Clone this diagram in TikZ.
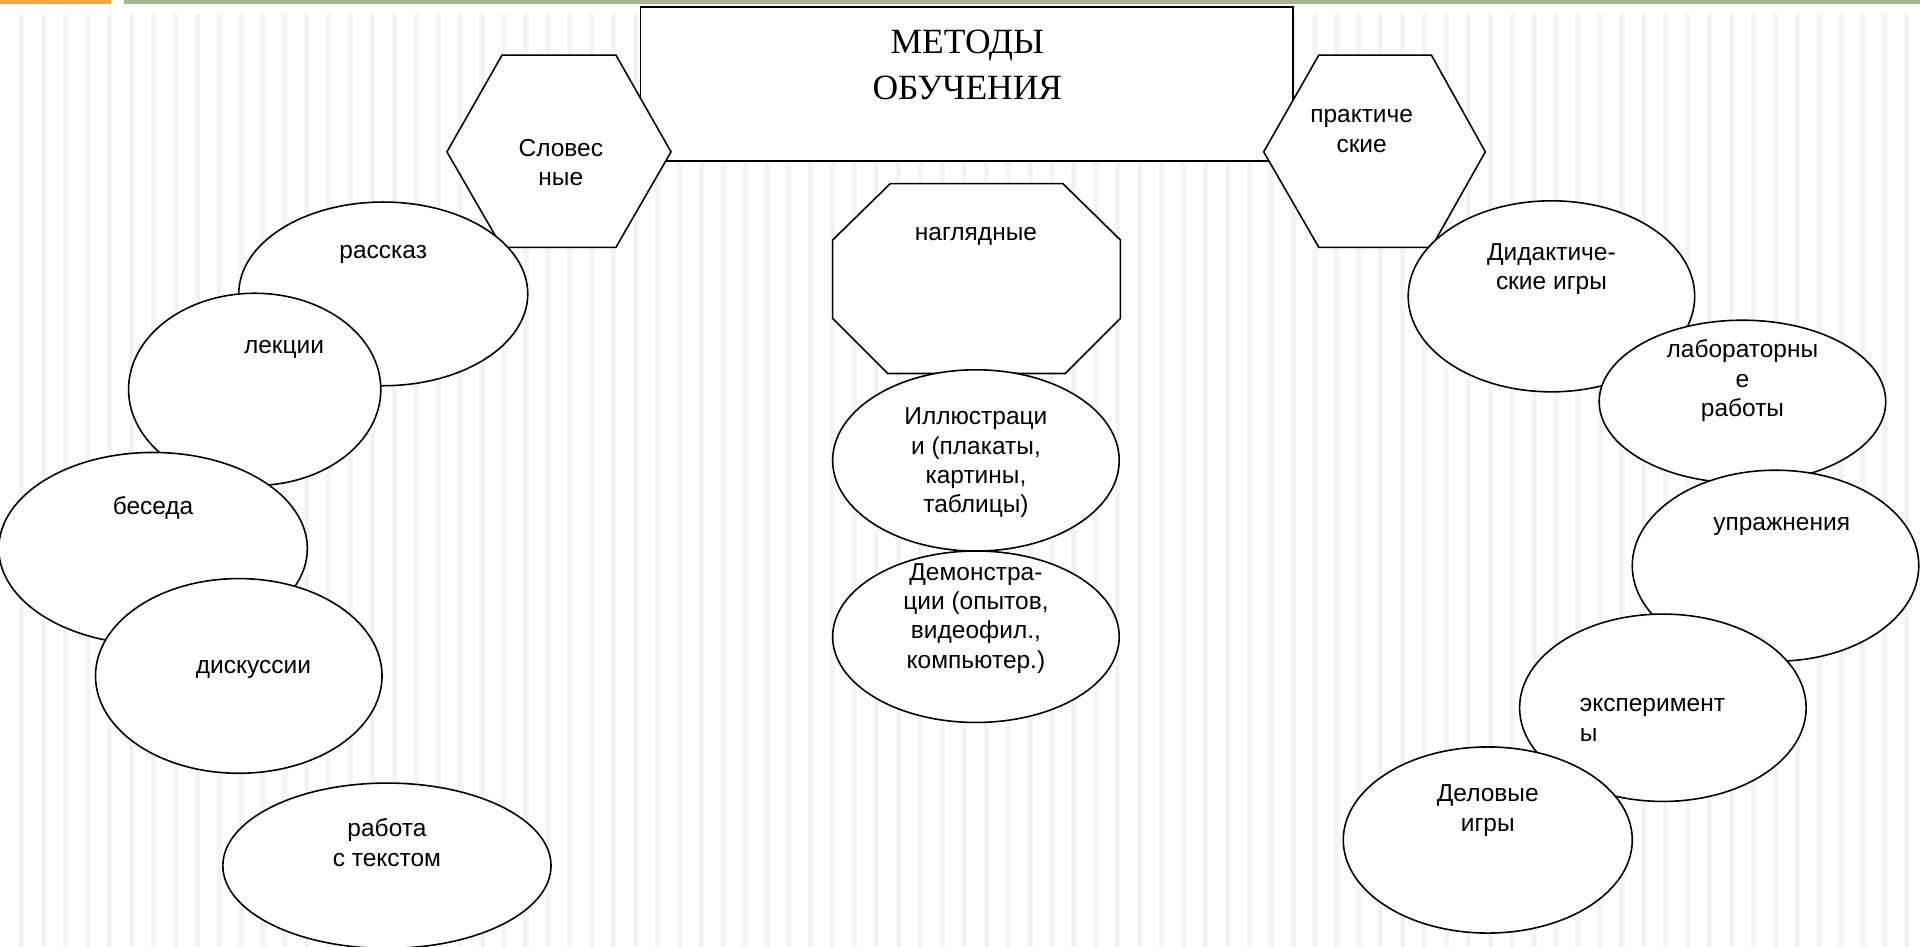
\documentclass[tikz,border=0pt]{standalone}
\usepackage{fontspec}
\setmainfont{Liberation Serif}
\newfontfamily\arialf{Liberation Sans}
\usetikzlibrary{shapes.geometric}
\definecolor{barorange}{HTML}{F2A647}
\definecolor{bargreen}{HTML}{A6B693}
\definecolor{stripe}{HTML}{F3F3F3}
\definecolor{stripeedge}{HTML}{F8F8F8}
\tikzset{
  shapeline/.style={draw=black, fill=white, line width=1.3pt, line join=miter},
  ell/.style={shapeline, ellipse, inner sep=0pt},
  txt/.style={font=\arialf\fontsize{20}{24}\selectfont, align=center, inner sep=0pt},
  ttl/.style={font=\fontsize{29}{37}\selectfont, align=center, inner sep=0pt},
}
\begin{document}
\begin{tikzpicture}[x=1pt, y=-1pt]
\useasboundingbox (0,0) rectangle (1568,773);
\fill[white] (0,0) rectangle (1568,773);
% stripes
\foreach \i in {0,...,87} {
  \fill[stripeedge] ({15.6+17.9*\i},11.5) rectangle ({20.0+17.9*\i},773);
  \fill[stripe] ({16.6+17.9*\i},11.5) rectangle ({19.0+17.9*\i},773);
}
% top bars
\fill[barorange] (0,0) rectangle (91,3.3);
\fill[bargreen] (101,0) rectangle (1568,3.3);

% title
\node[shapeline, rectangle, minimum width=533pt, minimum height=126pt, inner sep=0pt] (title) at (789.5,68.5) {};
\node[ttl] (titletxt) at (790,53) {МЕТОДЫ\\ОБУЧЕНИЯ};

% left hexagon
\draw[shapeline] (410,45) coordinate (hl1) -- (503,45) -- (548,124) -- (503,202) -- (410,202) -- (365,124) -- cycle;
\node[txt] (slovtxt) at (458,133) {Словес\\ные};

% right hexagon
\draw[shapeline] (1077,45) coordinate (hr1) -- (1169,45) -- (1213,124) -- (1169,202) -- (1077,202) -- (1032,124) -- cycle;
\node[txt] (praktxt) at (1112,107) {практиче\\ские};

% octagon
\draw[shapeline] (727,150) coordinate (oc1) -- (868,150) -- (915,196) -- (915,260) -- (870,305) -- (725,305) -- (680,260) -- (680,196) -- cycle;
\node[txt] (naglt) at (797,193) {наглядные};

% left ellipses
\node[ell, minimum width=236pt, minimum height=150pt] (rasskaz) at (313,240) {};
\node[txt] (rasskazt) at (313,208) {рассказ};
\node[ell, minimum width=206pt, minimum height=157pt] (lekcii) at (208,318) {};
\node[txt] (lekciit) at (232,285) {лекции};
\node[ell, minimum width=252pt, minimum height=157pt] (beseda) at (125,448) {};
\node[txt] (besedat) at (125,415) {беседа};
\node[ell, minimum width=234pt, minimum height=159pt] (disk) at (195,552) {};
\node[txt] (diskt) at (207,547) {дискуссии};
\node[ell, minimum width=268pt, minimum height=135pt] (rabota) at (316,707) {};
\node[txt] (rabotat) at (316,688) {работа\\с текстом};

% middle ellipses
\node[ell, minimum width=234pt, minimum height=148pt] (illus) at (797,376) {};
\node[txt] (illust) at (797,378) {Иллюстраци\\и (плакаты,\\картины,\\таблицы)};
\node[ell, minimum width=234pt, minimum height=140pt] (demo) at (797,520) {};
\node[txt] (demot) at (797,505) {Демонстра-\\ции (опытов,\\видеофил.,\\компьютер.)};

% right ellipses
\node[ell, minimum width=234pt, minimum height=156pt] (didakt) at (1267,242) {};
\node[txt] (didaktt) at (1267,220) {Дидактиче-\\ские игры};
\node[ell, minimum width=234pt, minimum height=133pt] (labor) at (1423,328) {};
\node[txt] (labort) at (1423,311) {лабораторны\\е\\работы};
\node[ell, minimum width=234pt, minimum height=156pt] (upr) at (1450,462) {};
\node[txt] (uprt) at (1455,430) {упражнения};
\node[ell, minimum width=234pt, minimum height=153pt] (exper) at (1358,578) {};
\node[txt, align=left, anchor=west] (expert) at (1290,588) {эксперимент\\ы};
\node[ell, minimum width=236pt, minimum height=152pt] (delov) at (1215,686) {};
\node[txt] (delovt) at (1215,662) {Деловые\\игры};
\end{tikzpicture}
\end{document}
